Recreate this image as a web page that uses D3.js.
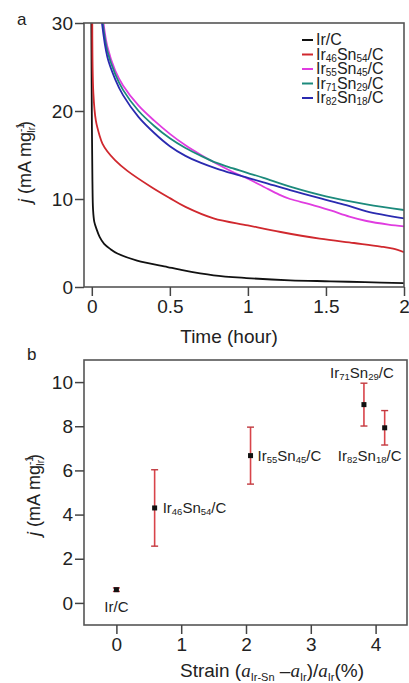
<!DOCTYPE html>
<html>
<head>
<meta charset="utf-8">
<script src="https://cdn.jsdelivr.net/npm/d3@7"></script>
<style>
  body { margin: 0; background: #fff; }
  svg text { font-family: "Liberation Sans", Arial, sans-serif; fill: #222; }
</style>
</head>
<body>
<div id="chart"></div>
<script>
// ---- panel a: chronoamperometry, [time (hour), j (mA mg-1)]
var irC = [[-0.003,30],[0.0,20],[0.004,12],[0.008,8.8],[0.016,7.4],[0.03,6.6],[0.05,5.7],[0.079,4.9],
  [0.12,4.3],[0.164,3.8],[0.29,3.0],[0.485,2.27],[0.566,1.97],[0.78,1.33],[0.99,1.02],[1.27,0.76],[1.53,0.65],[1.75,0.55],[2.0,0.45]];
var ir46 = [[0.003,30],[0.01,22],[0.026,18.9],[0.05,17.2],[0.068,16.3],[0.1,15.4],[0.15,14.4],[0.228,13.2],
  [0.378,11.4],[0.5,10.1],[0.6,9.1],[0.78,7.8],[1.0,7.0],[1.21,6.25],[1.46,5.5],[1.68,5.0],[1.85,4.6],[1.93,4.35],[2.0,3.95]];
var ir55 = [[0.075,30],[0.1,27.3],[0.15,24.6],[0.2,22.9],[0.3,20.6],[0.4,18.9],[0.5,17.4],[0.6,16.1],[0.7,15.0],
  [0.8,14.0],[0.9,13.1],[1.0,12.3],[1.1,11.4],[1.2,10.5],[1.27,10.0],[1.4,9.4],[1.53,8.7],[1.65,8.0],[1.76,7.5],[1.9,7.1],[2.0,6.9]];
var ir71 = [[0.07,30],[0.1,26.8],[0.15,24.2],[0.2,22.4],[0.3,20.0],[0.4,18.3],[0.5,16.9],[0.6,15.8],[0.7,14.9],
  [0.8,14.1],[0.9,13.5],[1.0,12.95],[1.1,12.4],[1.27,11.4],[1.5,10.3],[1.76,9.4],[2.0,8.75]];
var ir82 = [[0.065,30],[0.1,26.1],[0.15,23.6],[0.2,21.8],[0.3,19.3],[0.4,17.5],[0.5,16.0],[0.6,14.9],[0.7,14.1],
  [0.8,13.45],[0.9,12.9],[1.0,12.4],[1.1,11.9],[1.27,11.0],[1.5,9.9],[1.63,9.3],[1.76,8.6],[2.0,7.8]];

var seriesNames = [["Ir","46","Sn","54","/C"], ["Ir","55","Sn","45","/C"], ["Ir","71","Sn","29","/C"], ["Ir","82","Sn","18","/C"]];
var timeTicks = [0, 0.5, 1, 1.5, 2];
var jTicksA = [0, 10, 20, 30];

// ---- panel b: activity vs strain
var strain = [0, 0.59, 2.07, 3.82, 4.14];
var activity = [0.6, 4.3, 6.67, 8.98, 7.93];
var actErr = [0.08, 1.73, 1.29, 0.97, 0.78];
var catalysts = [["Ir/C"], ["Ir","46","Sn","54","/C"], ["Ir","55","Sn","45","/C"], ["Ir","71","Sn","29","/C"], ["Ir","82","Sn","18","/C"]];
var strainTicks = [0, 1, 2, 3, 4];
var jTicksB = [0, 2, 4, 6, 8, 10];

var W = 409, H = 683;
var svg = d3.select("#chart").append("svg").attr("width", W).attr("height", H);

// writes a formula like Ir46Sn54/C with the digits as subscripts
function chem(sel, parts, sub) {
  parts.forEach(function(p, i) {
    var isSub = (i % 2 == 1) && parts.length > 1;
    var t = sel.append("tspan").text(p);
    if (isSub) t.attr("font-size", sub).attr("dy", 2);
    else if (i > 0) t.attr("dy", -2);
  });
}

function frame(g, x0, y0, w, h) {
  g.append("rect").attr("x", x0).attr("y", y0).attr("width", w).attr("height", h)
    .attr("fill", "none").attr("stroke", "#555").attr("stroke-width", 1.6);
}

function styleAxis(g) {
  g.select(".domain").remove();
  g.selectAll(".tick line").attr("stroke", "#444").attr("stroke-width", 1.5);
  g.selectAll(".tick text").attr("font-size", 19).attr("fill", "#222")
    .attr("font-family", "Liberation Sans, Arial, sans-serif");
}

// =========== panel a
var xa = d3.scaleLinear().domain([-0.05, 2]).range([84, 404]);
var ya = d3.scaleLinear().domain([0, 30]).range([287, 23]);

svg.append("clipPath").attr("id", "clipA").append("rect")
  .attr("x", 84).attr("y", 23).attr("width", 320).attr("height", 264);

var line = d3.line().x(function(d) { return xa(d[0]); }).y(function(d) { return ya(d[1]); })
  .curve(d3.curveCatmullRom.alpha(0.5));

var curves = [
  {data: irC, color: "#111111"},
  {data: ir46, color: "#d0282e"},
  {data: ir55, color: "#e03ce0"},
  {data: ir71, color: "#1c8a7c"},
  {data: ir82, color: "#2a2ab0"}
];

svg.append("g").attr("clip-path", "url(#clipA)")
  .selectAll("path").data(curves).enter().append("path")
    .attr("d", function(d) { return line(d.data); })
    .attr("fill", "none")
    .attr("stroke", function(d) { return d.color; })
    .attr("stroke-width", 1.8);

frame(svg, 84, 23, 320, 264);

var gxa = svg.append("g").attr("transform", "translate(0,287)")
  .call(d3.axisBottom(xa).tickValues(timeTicks).tickSize(9).tickPadding(4).tickFormat(d3.format("")));
styleAxis(gxa);
var gya = svg.append("g").attr("transform", "translate(84,0)")
  .call(d3.axisLeft(ya).tickValues(jTicksA).tickSize(9).tickPadding(2));
styleAxis(gya);

// legend
var legNames = [["Ir/C"]].concat(seriesNames);
var leg = svg.append("g").selectAll("g").data(curves).enter().append("g")
  .attr("transform", function(d, i) { return "translate(302," + (40 + i * 14.5) + ")"; });
leg.append("line").attr("x1", 0).attr("x2", 11).attr("stroke", function(d) { return d.color; }).attr("stroke-width", 2);
leg.append("text").attr("x", 14).attr("y", 5).attr("font-size", 16)
  .each(function(d, i) { chem(d3.select(this), legNames[i], 10); });

svg.append("text").attr("x", 229).attr("y", 343).attr("text-anchor", "middle")
  .attr("font-size", 19).text("Time (hour)");

function jLabel(cx, cy) {
  var t = svg.append("text").attr("transform", "translate(" + cx + "," + cy + ") rotate(-90)")
    .attr("text-anchor", "middle").attr("font-size", 18);
  t.append("tspan").attr("font-style", "italic").text("j");
  t.append("tspan").text(" (mA mg");
  t.append("tspan").attr("font-size", 10).attr("dy", -7).text("-1");
  t.append("tspan").attr("font-size", 10).attr("dx", -10).attr("dy", 11).text("Ir");
  t.append("tspan").attr("dy", -4).text(")");
}
jLabel(31, 162);

svg.append("text").attr("x", 17).attr("y", 25).attr("font-size", 17).text("a");

// =========== panel b
var xb = d3.scaleLinear().domain([-0.5, 4.5]).range([84, 408]);
var yb = d3.scaleLinear().domain([-1, 11]).range([625, 360]);

frame(svg, 84, 360, 323, 265);

var pts = strain.map(function(s, i) { return {x: s, y: activity[i], e: actErr[i], name: catalysts[i]}; });

var eb = svg.append("g").selectAll("g").data(pts).enter().append("g");
eb.append("line")
  .attr("x1", function(d) { return xb(d.x); }).attr("x2", function(d) { return xb(d.x); })
  .attr("y1", function(d) { return yb(d.y - d.e); }).attr("y2", function(d) { return yb(d.y + d.e); })
  .attr("stroke", "#d8444a").attr("stroke-width", 1.6);
[-1, 1].forEach(function(s) {
  eb.append("line")
    .attr("x1", function(d) { return xb(d.x) - 3.5; }).attr("x2", function(d) { return xb(d.x) + 3.5; })
    .attr("y1", function(d) { return yb(d.y + s * d.e); }).attr("y2", function(d) { return yb(d.y + s * d.e); })
    .attr("stroke", "#c0393f").attr("stroke-width", 1.4);
});
eb.append("rect")
  .attr("x", function(d) { return xb(d.x) - 2.5; }).attr("y", function(d) { return yb(d.y) - 2.5; })
  .attr("width", 5).attr("height", 5).attr("fill", "#111");

// label placement for each point: [dx, dy, anchor]
var labelPos = [[0, 22, "middle"], [8, 5, "start"], [7, 5, "start"], [-2, -27, "middle"], [-15, 33, "middle"]];
svg.append("g").selectAll("text").data(pts).enter().append("text")
  .attr("x", function(d, i) { return xb(d.x) + labelPos[i][0]; })
  .attr("y", function(d, i) { return yb(d.y) + labelPos[i][1]; })
  .attr("text-anchor", function(d, i) { return labelPos[i][2]; })
  .attr("font-size", 15)
  .each(function(d) { chem(d3.select(this), d.name, 9.5); });

var gxb = svg.append("g").attr("transform", "translate(0,625)")
  .call(d3.axisBottom(xb).tickValues(strainTicks).tickSize(9).tickPadding(4).tickFormat(d3.format("d")));
styleAxis(gxb);
var gyb = svg.append("g").attr("transform", "translate(84,0)")
  .call(d3.axisLeft(yb).tickValues(jTicksB).tickSize(9).tickPadding(2));
styleAxis(gyb);

jLabel(40, 495);

var sx = svg.append("text").attr("x", 272).attr("y", 677).attr("text-anchor", "middle").attr("font-size", 19);
sx.append("tspan").text("Strain (");
sx.append("tspan").attr("font-style", "italic").attr("font-family", "Liberation Serif, serif").text("a");
sx.append("tspan").attr("font-size", 11).attr("dy", 4).text("Ir-Sn");
sx.append("tspan").attr("dy", -4).text(" \u2013");
sx.append("tspan").attr("font-style", "italic").attr("font-family", "Liberation Serif, serif").text("a");
sx.append("tspan").attr("font-size", 11).attr("dy", 4).text("Ir");
sx.append("tspan").attr("dy", -4).text(")/");
sx.append("tspan").attr("font-style", "italic").attr("font-family", "Liberation Serif, serif").text("a");
sx.append("tspan").attr("font-size", 11).attr("dy", 4).text("Ir");
sx.append("tspan").attr("dy", -4).text("(%)");

svg.append("text").attr("x", 27).attr("y", 360).attr("font-size", 17).text("b");
</script>
</body>
</html>
